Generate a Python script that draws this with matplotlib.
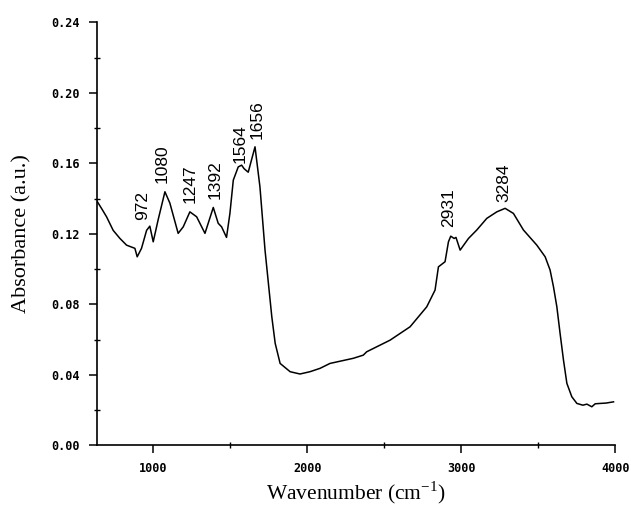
import numpy as np
import matplotlib
matplotlib.use("Agg")
import matplotlib.pyplot as plt
from matplotlib.ticker import MultipleLocator

# FTIR spectrum
wavenumber = [632, 664, 697, 740, 783, 827, 881, 896, 924, 957, 978, 1000, 1032, 1076,
              1108, 1162, 1195, 1238, 1282, 1336, 1390, 1422, 1444, 1476, 1498, 1520,
              1552, 1574, 1590, 1617, 1661, 1693, 1726, 1748, 1770, 1792, 1824, 1889,
              1953, 2018, 2083, 2148, 2299, 2364, 2386, 2538, 2668, 2776, 2830, 2852,
              2895, 2917, 2932, 2954, 2966, 2993, 3047, 3101, 3166, 3231, 3285, 3339,
              3404, 3491, 3545, 3577, 3599, 3621, 3642, 3664, 3686, 3718, 3751, 3790,
              3816, 3848, 3870, 3902, 3940, 3989]
absorbance = [0.139, 0.1345, 0.1297, 0.122, 0.1175, 0.1136, 0.1118, 0.107, 0.1118, 0.122,
              0.1244, 0.1155, 0.128, 0.1439, 0.1375, 0.1203, 0.124, 0.1325, 0.1297, 0.1203,
              0.135, 0.126, 0.124, 0.118, 0.1316, 0.1505, 0.158, 0.159, 0.157, 0.155,
              0.1694, 0.1467, 0.1108, 0.0919, 0.073, 0.0579, 0.0465, 0.0418, 0.0405, 0.0418,
              0.0437, 0.0465, 0.0494, 0.0512, 0.0531, 0.0597, 0.0673, 0.0786, 0.0881, 0.1013,
              0.1042, 0.1155, 0.1187, 0.1174, 0.118, 0.1108, 0.1174, 0.1222, 0.1288, 0.1325,
              0.1345, 0.1316, 0.1222, 0.1136, 0.107, 0.0995, 0.09, 0.0786, 0.0635, 0.0484,
              0.0352, 0.0276, 0.0238, 0.0228, 0.0234, 0.0219, 0.0236, 0.0238, 0.0240, 0.0247]

peak_labels = ["972", "1080", "1247", "1392", "1564", "1656", "2931", "3284"]
label_x = [933, 1061, 1238, 1401, 1563, 1672, 2917, 3274]
label_y = [0.1278, 0.1487, 0.1373, 0.140, 0.160, 0.174, 0.124, 0.138]

fig = plt.figure(figsize=(6.31, 5.09), dpi=100)
ax = fig.add_axes([0.153, 0.125, 0.822, 0.831])

ax.plot(wavenumber, absorbance, color="black", lw=1.1)

for s, x, y in zip(peak_labels, label_x, label_y):
    ax.text(x, y, s, rotation=90, ha="center", va="bottom",
            fontsize=12.5, family="Liberation Sans")

ax.set_xlim(632, 4000)
ax.set_ylim(0, 0.24)
ax.spines["top"].set_visible(False)
ax.spines["right"].set_visible(False)
ax.spines["left"].set_linewidth(1.2)
ax.spines["bottom"].set_linewidth(1.2)

ax.xaxis.set_major_locator(MultipleLocator(1000))
ax.xaxis.set_minor_locator(MultipleLocator(500))
ax.yaxis.set_major_locator(MultipleLocator(0.04))
ax.yaxis.set_minor_locator(MultipleLocator(0.02))
ax.yaxis.set_major_formatter(plt.FormatStrFormatter("%.2f"))
ax.tick_params(which="major", length=6, width=1.1, direction="out")
ax.tick_params(axis="y", which="major", pad=6)
ax.tick_params(axis="x", which="major", pad=6)
ax.tick_params(which="minor", length=4, width=1.0, direction="inout")
for lab in ax.get_xticklabels() + ax.get_yticklabels():
    lab.set_fontsize(8.5)
    lab.set_fontweight("bold")
    lab.set_family("DejaVu Sans Mono")

ax.set_xlabel("Wavenumber (cm$^{\\mathregular{-1}}$)", fontsize=15.5,
              family="Liberation Serif", labelpad=3)
ax.set_ylabel("Absorbance (a.u.)", fontsize=16, family="Liberation Serif", labelpad=14)

fig.savefig("out.png", dpi=100)
